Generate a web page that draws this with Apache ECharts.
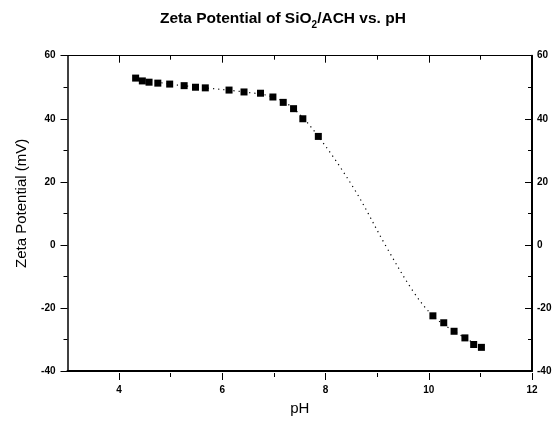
<!DOCTYPE html>
<html>
<head>
<meta charset="utf-8">
<script src="https://cdn.jsdelivr.net/npm/echarts@6/dist/echarts.min.js"></script>
<style>html,body{margin:0;padding:0;background:#fff}#c{width:557px;height:421px}</style>
</head>
<body>
<div id="c"></div>
<script>
// measured points
var phMeasured = [4.32, 4.45, 4.58, 4.75, 4.98, 5.26, 5.48, 5.67, 6.13, 6.42, 6.74, 6.98, 7.18, 7.38, 7.56, 7.86, 10.08, 10.29, 10.49, 10.70, 10.87, 11.02];
var zetaMeasured = [52.9, 52.0, 51.6, 51.3, 51.0, 50.5, 50.0, 49.8, 49.1, 48.5, 48.1, 46.9, 45.2, 43.2, 40.0, 34.4, -22.5, -24.7, -27.4, -29.5, -31.6, -32.5];
// dotted guide curve
var phCurve = [4.32, 4.98, 5.67, 6.42, 6.98, 7.38, 7.86, 8.56, 9.18, 9.70, 10.08, 10.49, 11.02];
var zetaCurve = [52.9, 51.0, 49.8, 48.5, 46.9, 43.2, 34.4, 17.6, -0.7, -14.8, -22.5, -27.4, -32.5];
var xMajorRange = [4, 12];   // labelled ticks 4,6,...,12
var xMinorRange = [5, 11];   // short ticks 5,7,9,11
var yTicks = [-40, -20, 0, 20, 40, 60];

var measured = phMeasured.map(function (p, i) { return [p, zetaMeasured[i]]; });
var curve = phCurve.map(function (p, i) { return [p, zetaCurve[i]]; });

var font = 'Liberation Sans, Arial, sans-serif';
var W = 557;
var chart = echarts.init(document.getElementById('c'));
var gridRect = { left: 67.5, right: 25, top: 55.7, bottom: 48 };

function xMain(pos, w, withName) {
  return {
    type: 'value', gridIndex: 0, position: pos, min: 3, max: 12, interval: 1,
    name: withName ? 'pH' : '', nameLocation: 'middle', nameGap: 30,
    nameTextStyle: { fontFamily: font, fontSize: 15, color: '#000' },
    axisLine: { show: true, onZero: false, lineStyle: { color: '#000', width: w } },
    axisTick: { show: false }, axisLabel: { show: false }, splitLine: { show: false }
  };
}
function xTick(gi, pos, inside, range, len, labels) {
  return {
    type: 'value', gridIndex: gi, position: pos, min: range[0], max: range[1], interval: 2,
    axisLine: { show: false, onZero: false },
    axisTick: { show: true, inside: inside, length: len, lineStyle: { color: '#000', width: 1 } },
    splitLine: { show: false },
    axisLabel: { show: labels, margin: 12, fontFamily: font, fontSize: 10, fontWeight: 'bold', color: '#000',
      showMinLabel: true, showMaxLabel: true }
  };
}
function yAx(pos, inside, w, margin, nameShow) {
  return {
    type: 'value', gridIndex: 0, position: pos, min: -40, max: 60, interval: 20,
    name: nameShow ? 'Zeta Potential (mV)' : '', nameLocation: 'middle', nameGap: 38,
    nameTextStyle: { fontFamily: font, fontSize: 15, color: '#000', padding: [0, 0, 0, 20] },
    axisLine: { show: true, onZero: false, lineStyle: { color: '#000', width: w } },
    axisTick: { show: true, inside: inside, length: 7, lineStyle: { color: '#000', width: 1 } },
    minorTick: { show: true, splitNumber: 2, length: 4, lineStyle: { color: '#000', width: 1 } },
    splitLine: { show: false },
    axisLabel: { show: true, inside: false, margin: margin, fontFamily: font, fontSize: 10, fontWeight: 'bold', color: '#000',
      formatter: function (v) { return yTicks.indexOf(v) >= 0 ? String(v) : ''; } }
  };
}
function yHidden(gi) {
  return { type: 'value', gridIndex: gi, min: 1, max: 2, show: false };
}

chart.setOption({
  backgroundColor: '#fff',
  animation: false,
  title: {
    text: '{a|Zeta Potential of SiO}{b|2}{a|/ACH vs. pH}',
    left: 160, top: 9, padding: 0,
    textStyle: {
      rich: {
        a: { fontFamily: font, fontSize: 15.5, fontWeight: 'bold', color: '#000', lineHeight: 18, verticalAlign: 'bottom' },
        b: { fontFamily: font, fontSize: 10, fontWeight: 'bold', color: '#000', lineHeight: 10, verticalAlign: 'bottom', padding: [0, 0, -3, 0] }
      }
    }
  },
  grid: [gridRect],
  xAxis: [xMain('bottom', 2, true), xMain('top', 1, false)],
  yAxis: [yAx('left', false, 1.5, 12, true), yAx('right', true, 2, 5, false)],
  series: [
    {
      type: 'line', data: curve, xAxisIndex: 0, yAxisIndex: 0,
      smooth: 0.35, showSymbol: false, symbol: 'none',
      lineStyle: { color: '#000', width: 1.2, type: [1.2, 4] }
    },
    {
      type: 'scatter', data: measured, xAxisIndex: 0, yAxisIndex: 0,
      symbol: 'rect', symbolSize: 7, itemStyle: { color: '#000', opacity: 1 }
    }
  ]
});

// overlay grids whose x extents follow the main pH scale, for tick marks
function px(v) { return chart.convertToPixel({ xAxisIndex: 0 }, v); }
var gMajor = { left: px(xMajorRange[0]), right: W - px(xMajorRange[1]), top: gridRect.top, bottom: gridRect.bottom };
var gMinor = { left: px(xMinorRange[0]), right: W - px(xMinorRange[1]), top: gridRect.top, bottom: gridRect.bottom };

chart.setOption({
  grid: [gridRect, gMajor, gMinor],
  xAxis: [
    xMain('bottom', 2, true),
    xMain('top', 1, false),
    xTick(1, 'bottom', false, xMajorRange, 7, true),
    xTick(1, 'top', true, xMajorRange, 7, false),
    xTick(2, 'bottom', false, xMinorRange, 4, false),
    xTick(2, 'top', true, xMinorRange, 4, false)
  ],
  yAxis: [yAx('left', false, 1.5, 12, true), yAx('right', true, 2, 5, false), yHidden(1), yHidden(2)]
});
</script>
</body>
</html>
